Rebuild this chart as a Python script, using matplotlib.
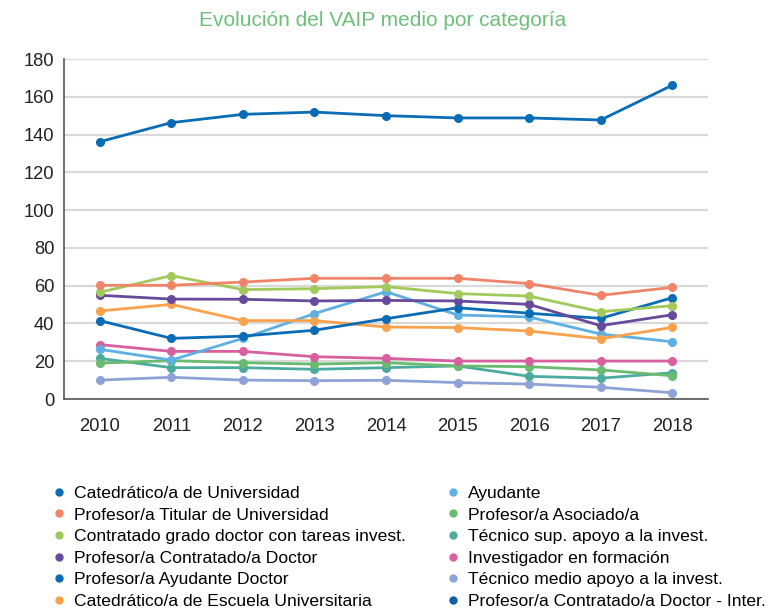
import matplotlib
matplotlib.use("Agg")
import matplotlib.pyplot as plt
from matplotlib.lines import Line2D
import numpy as np

plt.rcParams["font.family"] = ["Liberation Sans", "DejaVu Sans"]

# Datos
anios = [2010, 2011, 2012, 2013, 2014, 2015, 2016, 2017, 2018]

categorias = [
    "Catedrático/a de Universidad",
    "Profesor/a Titular de Universidad",
    "Contratado grado doctor con tareas invest.",
    "Profesor/a Contratado/a Doctor",
    "Profesor/a Ayudante Doctor",
    "Catedrático/a de Escuela Universitaria",
    "Ayudante",
    "Profesor/a Asociado/a",
    "Técnico sup. apoyo a la invest.",
    "Investigador en formación",
    "Técnico medio apoyo a la invest.",
    "Profesor/a Contratado/a Doctor - Inter.",
]

colores = ["#0a6cb4", "#f08468", "#a2c95c", "#664a9c", "#0a6cb4", "#f8a24e",
           "#5eb0e2", "#6abb70", "#4cab9f", "#d8609e", "#8fa2d6", "#0a5fa8"]

cu = [136.2, 146.3, 150.7, 151.9, 150.0, 148.8, 148.8, 147.7, 166.1]
titular = [60.2, 60.2, 61.9, 63.9, 63.9, 63.9, 61.1, 54.9, 59.1]
contr_grado = [56.5, 65.3, 57.9, 58.4, 59.5, 55.8, 54.5, 46.2, 49.4]
contr_doctor = [54.9, 52.9, 52.8, 51.9, 52.2, 51.9, 50.1, 38.8, 44.6]
ayud_doctor = [41.5, 32.1, 33.3, 36.4, 42.5, 48.3, 45.4, 42.7, 53.6]
cat_eu = [46.6, 50.1, 41.5, 41.5, 38.1, 37.8, 36.0, 31.9, 37.9]
ayudante = [26.3, 20.6, 32.1, 45.2, 56.8, 44.5, 43.4, 34.4, 30.3]
asociado = [19.0, 20.3, 19.2, 18.5, 19.2, 17.5, 17.1, 15.4, 12.3]
tec_sup = [21.5, 16.6, 16.6, 15.7, 16.6, 17.5, 12.0, 11.0, 13.9]
inv_formacion = [28.8, 25.2, 25.2, 22.4, 21.5, 20.1, 20.1, 20.1, 20.1]
tec_medio = [10.0, 11.5, 10.0, 9.7, 9.9, 8.7, 7.9, 6.2, 3.3]
inter = []  # sin datos en el gráfico

series = [cu, titular, contr_grado, contr_doctor, ayud_doctor, cat_eu,
          ayudante, asociado, tec_sup, inv_formacion, tec_medio, inter]

fig = plt.figure(figsize=(7.82, 6.12), dpi=100)
ax = fig.add_axes([64 / 782, 1 - 399 / 612, (708 - 64) / 782, (399 - 59) / 612])

# dibujar de abajo hacia arriba
orden = [10, 8, 7, 9, 6, 5, 4, 3, 2, 1, 0]
for i in orden:
    vals = series[i]
    if len(vals) == 0:
        continue
    ax.plot(anios, vals, color=colores[i], lw=2.0, marker="o", ms=5.5,
            solid_capstyle="round")

ax.set_xlim(2009.5, 2018.5)
ax.set_ylim(0, 180)
ax.set_yticks(np.arange(0, 181, 20))
ax.set_xticks(anios)
ax.tick_params(axis="both", length=0, labelsize=13.2, colors="#222222")
ax.tick_params(axis="x", pad=14)
ax.tick_params(axis="y", pad=7)
ax.grid(axis="y", color="#d9d9d9", lw=1.6)
ax.set_axisbelow(True)
for s in ["top", "right"]:
    ax.spines[s].set_visible(False)
for s in ["left", "bottom"]:
    ax.spines[s].set_color("#555555")
    ax.spines[s].set_linewidth(1.2)

fig.text(383 / 782, 1 - 20 / 612, "Evolución del VAIP medio por categoría",
         ha="center", va="center", fontsize=15, color="#6cc07a")

# leyenda en dos columnas
handles = [Line2D([], [], marker="o", ls="", color=c, ms=5) for c in colores]
for k, x0 in enumerate([41, 435]):
    leg = fig.legend(handles[6 * k:6 * k + 6], categorias[6 * k:6 * k + 6],
                     loc="upper left", bbox_to_anchor=(x0 / 782, 1 - 477 / 612),
                     frameon=False, fontsize=12.6, handletextpad=0.4,
                     handlelength=1.0, labelspacing=0.36, borderpad=0)

fig.savefig("out.png", dpi=100)
